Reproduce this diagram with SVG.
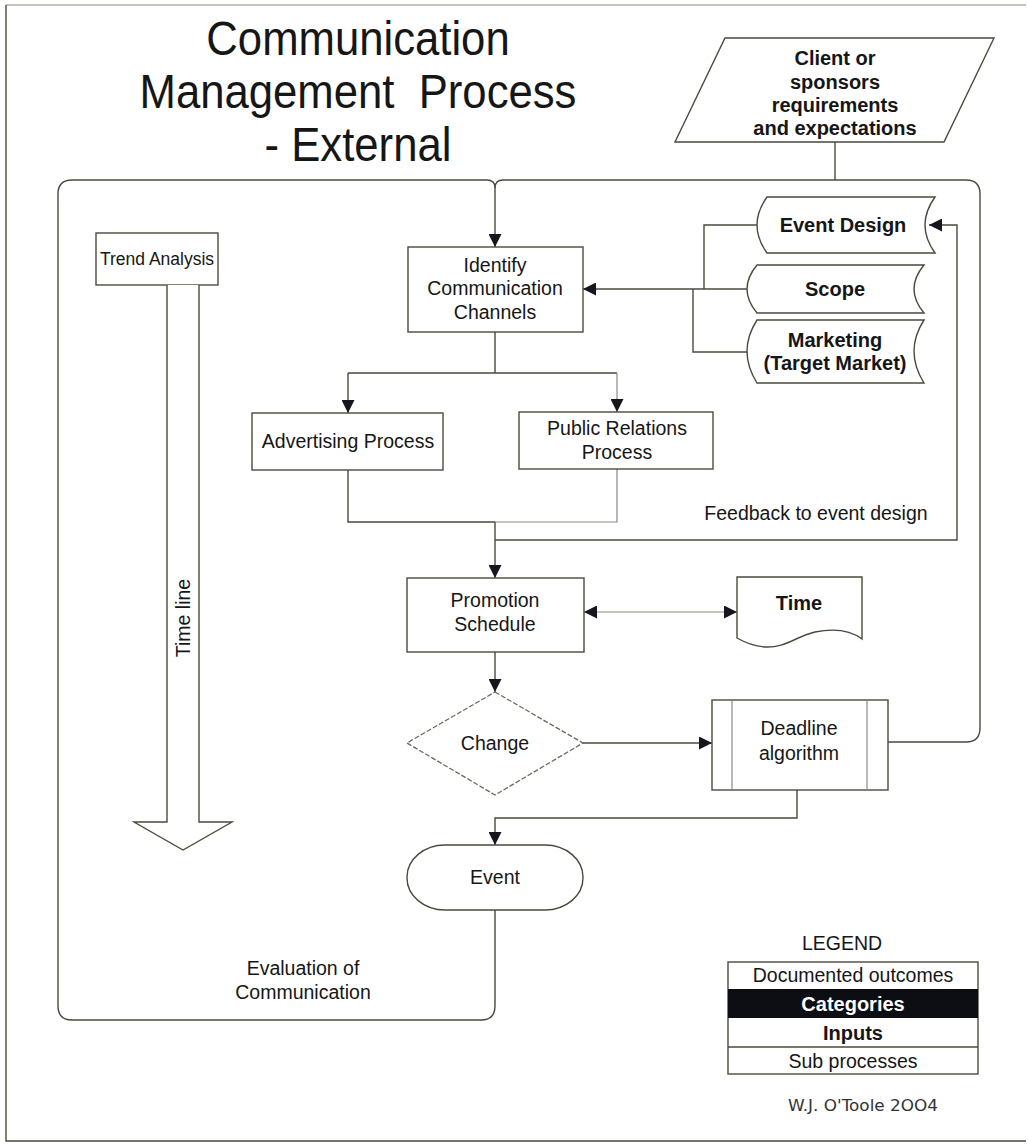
<svg xmlns="http://www.w3.org/2000/svg" width="1028" height="1144" viewBox="0 0 1028 1144">
  <style>
    .ln { fill: none; stroke: #4a4a3e; stroke-width: 1.4; }
    .lt { fill: none; stroke: #8a8a80; stroke-width: 1.2; }
    .box { fill: #ffffff; stroke: #4a4a3e; stroke-width: 1.4; }
    .dsh { fill: #ffffff; stroke: #6a6a5e; stroke-width: 1.3; stroke-dasharray: 5 2; }
    text { font-family: "Liberation Sans", Arial, sans-serif; fill: #161616; text-anchor: middle; }
    .t { font-size: 19.5px; }
    .b { font-size: 20px; font-weight: bold; }
    .title { font-size: 48px; }
  </style>
  <defs>
    <marker id="ah" viewBox="0 0 12 12" refX="12" refY="6" markerWidth="13" markerHeight="13" markerUnits="userSpaceOnUse" orient="auto">
      <path d="M0,0 L12,6 L0,12 Z" fill="#16161f"/>
    </marker>
    <marker id="ah2" viewBox="0 0 12 12" refX="12" refY="6" markerWidth="13" markerHeight="13" markerUnits="userSpaceOnUse" orient="auto-start-reverse">
      <path d="M0,0 L12,6 L0,12 Z" fill="#16161f"/>
    </marker>
  </defs>
  <rect width="1028" height="1144" fill="#ffffff"/>

  <!-- page border -->
  <g id="page-border">
    <path class="lt" d="M6,5 H1026"/>
    <path class="ln" d="M6,5 V1141 H1026"/>
  </g>

  <!-- title, slightly condensed -->
  <g id="title" transform="translate(358,0) scale(0.91,1)">
    <text class="title" x="0" y="55">Communication</text>
    <text class="title" x="0" y="108" xml:space="preserve">Management  Process</text>
    <text class="title" x="0" y="161">- External</text>
  </g>

  <!-- connectors -->
  <g id="connectors">
    <!-- client requirements into the top of the loop -->
    <path class="ln" d="M835,142 V180"/>
    <!-- right-hand loop: deadline algorithm back to the top -->
    <path class="ln" d="M888,742 H966 Q980,742 980,728 V194 Q980,180 966,180 H503 Q495,180 495,188"/>
    <!-- left-hand loop: event evaluation back to the top -->
    <path class="ln" d="M495,910 V1006 Q495,1020 481,1020 H72 Q58,1020 58,1006 V194 Q58,180 72,180 H487 Q495,180 495,188"/>
    <path class="ln" marker-end="url(#ah)" d="M495,188 V247"/>
    <!-- inputs into identify channels -->
    <path class="ln" d="M757,225 H704 V289"/>
    <path class="ln" d="M747,352 H693 V289"/>
    <path class="ln" marker-end="url(#ah)" d="M747,289 H583"/>
    <!-- split to advertising and public relations -->
    <path class="ln" d="M495,332 V373 M348,373 H617"/>
    <path class="ln" marker-end="url(#ah)" d="M348,373 V413"/>
    <path class="lt" marker-end="url(#ah)" d="M617,373 V412"/>
    <!-- merge into promotion schedule -->
    <path class="ln" d="M348,470 V522 H495"/>
    <path class="lt" d="M617,469 V522 H495"/>
    <path class="ln" marker-end="url(#ah)" d="M495,522 V578"/>
    <!-- feedback to event design -->
    <path class="ln" marker-end="url(#ah)" d="M495,540 H957 V225 H929"/>
    <!-- promotion schedule <-> time -->
    <path class="lt" marker-start="url(#ah2)" marker-end="url(#ah2)" d="M584,612 H737"/>
    <!-- promotion schedule to change -->
    <path class="ln" marker-end="url(#ah)" d="M495,652 V692"/>
    <!-- change to deadline algorithm -->
    <path class="ln" marker-end="url(#ah)" d="M583,743 H712"/>
    <!-- deadline algorithm to event -->
    <path class="ln" marker-end="url(#ah)" d="M797,790 V818 H495 V845"/>
  </g>

  <!-- nodes -->
  <g id="client-requirements">
    <polygon class="box" points="725,38 994,38 944,142 675,142"/>
    <text class="b" x="835" y="65">Client or</text>
    <text class="b" x="835" y="89">sponsors</text>
    <text class="b" x="835" y="112">requirements</text>
    <text class="b" x="835" y="135">and expectations</text>
  </g>

  <g id="trend-analysis">
    <rect class="box" x="96" y="233" width="122" height="52"/>
    <text x="157" y="265" style="font-size:17.5px">Trend Analysis</text>
  </g>

  <g id="time-line">
    <path class="box" d="M167,285 V822 H134 L183,850 L232,822 H199 V285"/>
    <text class="t" transform="translate(190,618) rotate(-90)">Time line</text>
  </g>

  <g id="identify-channels">
    <rect class="box" x="408" y="247" width="175" height="85"/>
    <text class="t" x="495" y="272">Identify</text>
    <text class="t" x="495" y="295">Communication</text>
    <text class="t" x="495" y="319">Channels</text>
  </g>

  <g id="event-design">
    <path class="box" d="M767,197 H935 Q915,225 935,253 H767 Q747,225 767,197 Z"/>
    <text class="b" x="843" y="232">Event Design</text>
  </g>

  <g id="scope">
    <path class="box" d="M757,265 H924 Q904,289 924,313 H757 Q737,289 757,265 Z"/>
    <text class="b" x="835" y="296">Scope</text>
  </g>

  <g id="marketing">
    <path class="box" d="M757,320 H924 Q904,351 924,383 H757 Q737,351 757,320 Z"/>
    <text class="b" x="835" y="347">Marketing</text>
    <text class="b" x="835" y="370">(Target Market)</text>
  </g>

  <g id="advertising">
    <rect class="box" x="252" y="413" width="191" height="57"/>
    <text class="t" x="348" y="448">Advertising Process</text>
  </g>

  <g id="public-relations">
    <rect class="box" x="519" y="412" width="194" height="57"/>
    <text class="t" x="617" y="435">Public Relations</text>
    <text class="t" x="617" y="459">Process</text>
  </g>

  <g id="feedback-label">
    <text class="t" x="816" y="520">Feedback to event design</text>
  </g>

  <g id="promotion-schedule">
    <rect class="box" x="407" y="578" width="177" height="74"/>
    <text class="t" x="495" y="607">Promotion</text>
    <text class="t" x="495" y="631">Schedule</text>
  </g>

  <g id="time">
    <path class="box" d="M737,577 H862 V639 C850,630 835,628 815,632 C795,637 785,648 765,647 C752,646 744,642 737,638 Z"/>
    <text class="b" x="799" y="610">Time</text>
  </g>

  <g id="change">
    <polygon class="dsh" points="495,692 583,743 495,795 407,743"/>
    <text class="t" x="495" y="750">Change</text>
  </g>

  <g id="deadline-algorithm">
    <rect class="box" x="712" y="700" width="176" height="90"/>
    <path class="lt" d="M732,700 V790 M867,700 V790"/>
    <text class="t" x="799" y="735">Deadline</text>
    <text class="t" x="799" y="760">algorithm</text>
  </g>

  <g id="event">
    <rect class="box" x="407" y="845" width="176" height="65" rx="38" ry="32"/>
    <text class="t" x="495" y="884">Event</text>
  </g>

  <g id="evaluation-label">
    <text class="t" x="303" y="975">Evaluation of</text>
    <text class="t" x="303" y="999">Communication</text>
  </g>

  <g id="legend">
    <text class="t" x="842" y="950">LEGEND</text>
    <rect class="box" x="728" y="962" width="250" height="112"/>
    <rect x="728" y="989" width="250" height="29" fill="#0d0d14"/>
    <path class="ln" d="M728,1047 H978"/>
    <text class="t" x="853" y="982">Documented outcomes</text>
    <text class="b" x="853" y="1011" style="fill:#ffffff">Categories</text>
    <text class="b" x="853" y="1040">Inputs</text>
    <text class="t" x="853" y="1068">Sub processes</text>
  </g>

  <g id="credit">
    <text x="863" y="1111" style="font-family:'DejaVu Sans', sans-serif; font-size:15px; fill:#333333" textLength="150" lengthAdjust="spacingAndGlyphs">W.J. O'Toole 2OO4</text>
  </g>
</svg>
